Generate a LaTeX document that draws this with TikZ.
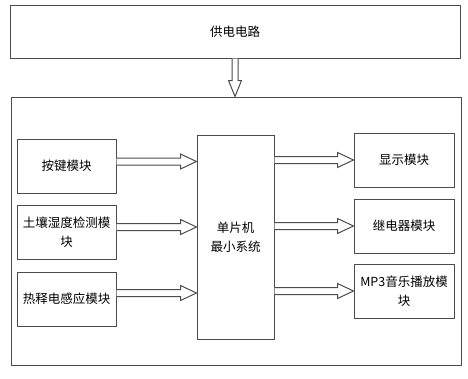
\documentclass[tikz,border=0pt]{standalone}
\usepackage{fontspec}
\newfontfamily\cjk{Noto Sans CJK SC}
\usepackage{tikz}
\usetikzlibrary{shapes, arrows, positioning, calc}

\colorlet{linegray}{black!70}
\tikzset{
  block/.style={draw=linegray, line width=1pt, rectangle, align=center,
    font={\cjk\fontsize{12.5}{19}\selectfont}},
  hollow/.style={draw=linegray, line width=1pt, fill=white}
}
% hollow arrow from a start point to the level of a target anchor
\newcommand{\hollowarrow}[2]{%
  \coordinate (s) at #1;
  \coordinate (t) at (s -| #2);
  \draw[hollow] ($(s)+(0,-3.5)$) -- ($(t)+(-16,-3.5)$) -- ($(t)+(-16,-7.5)$)
    -- (t) -- ($(t)+(-16,7.5)$) -- ($(t)+(-16,3.5)$) -- ($(s)+(0,3.5)$);
}

\begin{document}
\begin{tikzpicture}[x=1pt, y=-1pt]
\useasboundingbox (0,0) rectangle (468,378);

% power supply and system frame
\node[block, minimum width=450pt, minimum height=53pt] (power) at (235,31.5) {供电电路};
\node[block, minimum width=450pt, minimum height=268pt] (frame) at (236,231) {};

% inputs
\node[block, minimum width=99pt, minimum height=54pt] (key) at (66.5,166) {按键模块};
\node[block, minimum width=99pt, minimum height=54pt] (soil) at (66.5,232) {土壤湿度检测模\\块};
\node[block, minimum width=99pt, minimum height=54pt] (pir) at (66.5,299) {热释电感应模块};

% controller
\node[block, minimum width=77pt, minimum height=204pt] (mcu) at (235.5,237) {单片机\\最小系统};

% outputs
\node[block, minimum width=100pt, minimum height=54pt] (disp) at (404,160) {显示模块};
\node[block, minimum width=100pt, minimum height=54pt] (relay) at (404,226) {继电器模块};
\node[block, minimum width=100pt, minimum height=54pt] (mp3) at (404,291) {MP3音乐播放模\\块};

% power arrow
\coordinate (ps) at (power.south -| 235,0);
\coordinate (pt) at (frame.north -| 235,0);
\draw[hollow] ($(ps)+(-3,0)$) -- ($(pt)+(-3,-16)$) -- ($(pt)+(-6.5,-16)$) -- (pt)
  -- ($(pt)+(6.5,-16)$) -- ($(pt)+(3,-16)$) -- ($(ps)+(3,0)$);

% signal arrows
\hollowarrow{($(key.east)+(0,-4.5)$)}{mcu.west}
\hollowarrow{($(soil.east)+(0,-5)$)}{mcu.west}
\hollowarrow{($(pir.east)+(0,-6)$)}{mcu.west}
\hollowarrow{(disp.west -| mcu.east)}{disp.west}
\hollowarrow{(relay.west -| mcu.east)}{relay.west}
\hollowarrow{(mp3.west -| mcu.east)}{mp3.west}
\end{tikzpicture}
\end{document}
